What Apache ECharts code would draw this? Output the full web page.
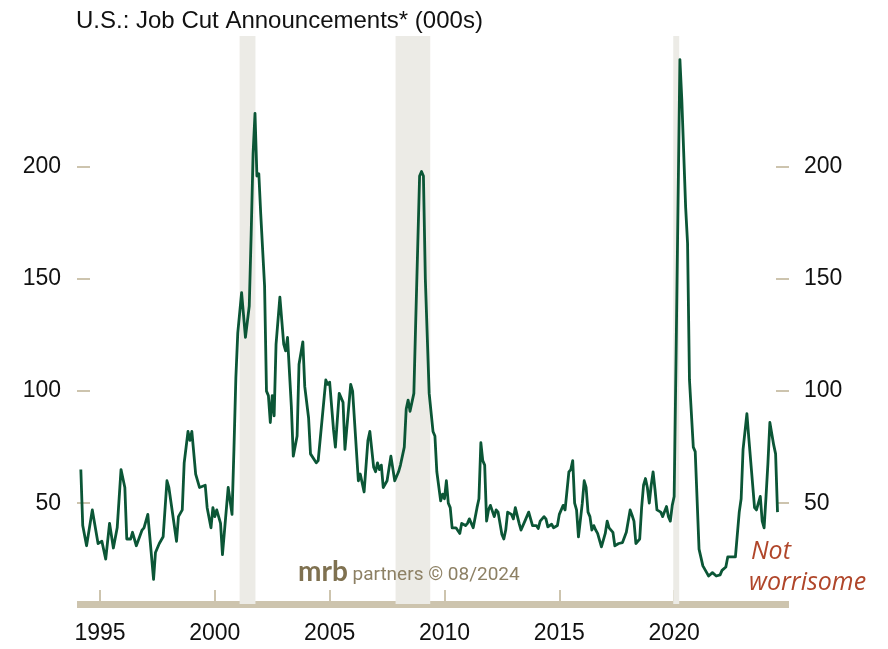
<!DOCTYPE html>
<html>
<head>
<meta charset="utf-8">
<script src="https://cdn.jsdelivr.net/npm/echarts@6/dist/echarts.min.js"></script>
<style>
html,body{margin:0;padding:0;background:#fff;}
#chart{width:888px;height:649px;}
</style>
</head>
<body>
<div id="chart"></div>
<script>
// Monthly job cut announcements (000s), readings at turning points
const dates = [
"1994-03","1994-04","1994-05","1994-06","1994-09","1994-12","1995-02","1995-04","1995-06","1995-08","1995-10","1995-12",
"1996-02","1996-03","1996-05","1996-06","1996-08","1996-11","1996-12","1997-02","1997-05","1997-06","1997-08","1997-10","1997-12",
"1998-01","1998-05","1998-06","1998-08","1998-09","1998-11","1998-12","1999-01","1999-03","1999-05","1999-08","1999-09","1999-11","1999-12",
"2000-01","2000-02","2000-04","2000-05","2000-08","2000-10","2000-11","2000-12","2001-01","2001-03","2001-05","2001-07","2001-08","2001-09","2001-10","2001-11","2001-12",
"2002-01","2002-03","2002-04","2002-05","2002-06","2002-07","2002-08","2002-09","2002-11","2003-01","2003-02","2003-03","2003-05","2003-06","2003-08","2003-09","2003-11","2003-12",
"2004-02","2004-03","2004-06","2004-07","2004-09","2004-11","2004-12","2005-01","2005-03","2005-04","2005-06","2005-08","2005-09","2005-12",
"2006-01","2006-04","2006-05","2006-07","2006-09","2006-10","2006-12","2007-01","2007-02","2007-03","2007-04","2007-05","2007-07","2007-09","2007-11",
"2008-01","2008-02","2008-04","2008-05","2008-06","2008-07","2008-09","2008-10","2008-12","2009-01","2009-02","2009-03","2009-05","2009-07","2009-08","2009-09","2009-11","2009-12",
"2010-01","2010-02","2010-03","2010-04","2010-05","2010-07","2010-09","2010-10","2010-12","2011-01","2011-02","2011-04","2011-05","2011-06","2011-07","2011-08","2011-09","2011-10","2011-11","2011-12",
"2012-01","2012-03","2012-04","2012-05","2012-07","2012-08","2012-09","2012-10","2012-12","2013-01","2013-02","2013-03","2013-04","2013-05","2013-07","2013-09","2013-10","2013-11",
"2014-01","2014-02","2014-03","2014-05","2014-06","2014-07","2014-09","2014-10","2014-12","2015-01","2015-03","2015-04","2015-06","2015-07","2015-08","2015-09","2015-10","2015-11",
"2016-01","2016-02","2016-03","2016-04","2016-05","2016-06","2016-07","2016-08","2016-09","2016-11","2017-01","2017-02","2017-03","2017-05","2017-06","2017-08","2017-10","2017-11","2017-12",
"2018-01","2018-02","2018-03","2018-04","2018-05","2018-07","2018-08","2018-09","2018-10","2018-11","2018-12","2019-01","2019-02","2019-03","2019-04","2019-06","2019-07","2019-08","2019-09","2019-10","2019-11","2019-12",
"2020-01","2020-02","2020-04","2020-05","2020-06","2020-07","2020-08","2020-09","2020-11","2020-12","2021-02","2021-04","2021-06","2021-07","2021-09","2021-10","2021-11",
"2022-01","2022-02","2022-04","2022-05","2022-06","2022-07","2022-09","2022-11","2022-12","2023-01","2023-02","2023-03","2023-04","2023-05","2023-07","2023-08","2023-10","2023-11","2023-12",
"2024-01","2024-02","2024-03","2024-05","2024-06","2024-07"
];
const values = [
65,40,40,31,47,32,33,25,41,30,39,65,
57,34,34,37,31,38,39,45,16,28,32,35,60,
57,33,44,47,68,82,78,82,63,57,58,48,39,48,
44,47,41,27,57,45,74,106,126,144,124,138,170,206,224,196,197,
179,147,100,98,86,98,89,121,142,121,118,124,93,71,80,112,122,102,
88,72,68,69,87,105,103,104,83,75,99,95,74,103,
100,60,63,55,78,82,66,64,68,65,67,57,60,71,60,
64,67,75,92,96,91,99,132,196,198,196,150,99,82,80,64,51,54,
52,60,50,48,39,39,36.5,41,40,41,43,39,39,48,52,77,69,67,42,47,
49,44,47,46,36,34,38,46,45,43,48,47.6,41,38,42,46,43,40,
40,38.7,42,44,43,39.4,40.6,39,40,45,49,47,64,65,69,50,47,35,
50,60,57,46,44,38,40,38,36.5,30.5,36.5,42,39,37,31,32,32.4,33,37,
37.5,47,44.6,42,32,34,48,58,61,57,50,58,64,56,47,46,44,44,48.5,44,42,49,
53,116,248,230,230,182,166,105,75,73,29.5,22,19,17.5,19,19,17.5,
18,20,21.5,26,26.5,26,26,46,52,74,74,90,79,79,48,47,53,42,39,
53,68,86,76,72,46
];
const yearTicks = [1995, 2000, 2005, 2010, 2015, 2020];
const valueTicks = [50, 100, 150, 200];
const recessions = [[2001.08, 2001.77], [2007.87, 2009.38], [2019.96, 2020.22]];
const titleText = "U.S.: Job Cut Announcements* (000s)";
const noteText = ["Not", "worrisome"];

function toYear(s) {
  const p = s.split("-");
  return +p[0] + (+p[1] - 1) / 12;
}
const seriesData = dates.map((d, i) => [toYear(d), values[i]]);

const beige = "#cdc4ae";
const chart = echarts.init(document.getElementById("chart"), null, {renderer: "canvas"});

const yAxisBase = {
  type: "value", min: 5, max: 258.5,
  splitLine: {show: false},
  axisLine: {show: false},
  axisTick: {show: true, inside: true, length: 13, customValues: valueTicks, lineStyle: {color: beige, width: 2}},
  axisLabel: {customValues: valueTicks, fontSize: 23, color: "#111", fontFamily: "Liberation Sans, Arial, sans-serif", margin: 16}
};

chart.setOption({
  animation: false,
  backgroundColor: "#ffffff",
  grid: {left: 77, right: 99, top: 36, bottom: 45, containLabel: false},
  xAxis: {
    type: "value", min: 1994, max: 2025,
    splitLine: {show: false},
    axisLine: {show: true, lineStyle: {color: beige, width: 7, cap: "butt"}},
    axisTick: {show: true, inside: true, length: 14, customValues: yearTicks, lineStyle: {color: beige, width: 2}},
    axisLabel: {customValues: yearTicks, fontSize: 23, color: "#111", fontFamily: "Liberation Sans, Arial, sans-serif", margin: 18,
      formatter: v => String(v)}
  },
  yAxis: [
    Object.assign({}, yAxisBase, {position: "left"}),
    Object.assign({}, yAxisBase, {position: "right", axisLabel: Object.assign({}, yAxisBase.axisLabel, {margin: 15})})
  ],
  series: [{
    type: "line",
    data: seriesData,
    showSymbol: false,
    symbol: "none",
    lineStyle: {color: "#0b5636", width: 2.8, join: "round"},
    z: 5,
    markArea: {
      silent: true,
      itemStyle: {color: "#ecebe6"},
      data: recessions.map(r => [{xAxis: r[0]}, {xAxis: r[1]}])
    }
  }],
  graphic: [
    {type: "text", z: 100, left: 76, top: 9, style: {text: titleText, font: "24px 'Liberation Sans', Arial, sans-serif", fill: "#111"}},
    {type: "text", z: 100, left: 751, top: 539, style: {text: noteText[0], font: "italic 25px 'Open Sans', sans-serif", fill: "#b0462a"}},
    {type: "text", z: 100, left: 749, top: 570, style: {text: noteText[1], font: "italic 25px 'Open Sans', sans-serif", fill: "#b0462a"}},
    {type: "text", z: 100, left: 298, top: 558, style: {
      text: "{a|mrb}{b| partners © 08/2024}",
      rich: {
        a: {fontSize: 28, fontWeight: "bold", fill: "#7f7150", fontFamily: "Lato, sans-serif", color: "#7f7150"},
        b: {fontSize: 19, fill: "#8d8064", fontFamily: "Roboto, sans-serif", color: "#8d8064", padding: [6, 0, 0, 0]}
      }
    }}
  ]
});
</script>
</body>
</html>
